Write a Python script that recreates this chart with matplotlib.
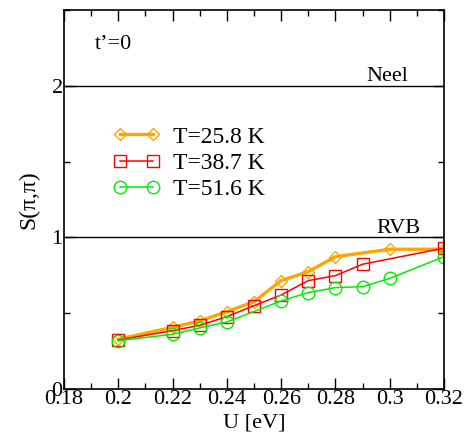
import matplotlib
matplotlib.use("Agg")
import matplotlib.pyplot as plt
from matplotlib.ticker import MultipleLocator

plt.rcParams['font.family'] = ['Liberation Serif', 'DejaVu Serif']

# T = 25.8 K
u_258 = [0.20, 0.22, 0.23, 0.24, 0.25, 0.26, 0.27, 0.28, 0.30, 0.32]
s_258 = [0.328, 0.407, 0.449, 0.510, 0.576, 0.715, 0.774, 0.873, 0.922, 0.922]
# T = 38.7 K
u_387 = [0.20, 0.22, 0.23, 0.24, 0.25, 0.26, 0.27, 0.28, 0.29, 0.32]
s_387 = [0.323, 0.385, 0.420, 0.477, 0.550, 0.620, 0.715, 0.748, 0.823, 0.929]
# T = 51.6 K
u_516 = [0.20, 0.22, 0.23, 0.24, 0.26, 0.27, 0.28, 0.29, 0.30, 0.32]
s_516 = [0.319, 0.361, 0.403, 0.442, 0.581, 0.636, 0.669, 0.675, 0.730, 0.873]

xticks = [0.18, 0.2, 0.22, 0.24, 0.26, 0.28, 0.3, 0.32]
xtick_labels = ['0.18', '0.2', '0.22', '0.24', '0.26', '0.28', '0.3', '0.32']

fig = plt.figure(figsize=(4.68, 4.43), dpi=100)
ax = fig.add_axes([0.1368, 0.1219, 0.8119, 0.8555])

ax.axhline(2, color='black', lw=1.0)
ax.axhline(1, color='black', lw=1.0)

ax.plot(u_258, s_258, color='#FFA500', lw=2.4, marker='D', ms=6.5,
        mfc='none', mec='#FFA500', mew=1.0, label='T=25.8 K')
ax.plot(u_387, s_387, color='#FF0000', lw=1.1, marker='s', ms=8,
        mfc='none', mec='#FF0000', mew=1.0, label='T=38.7 K')
ax.plot(u_516, s_516, color='#00EE00', lw=1.1, marker='o', ms=9,
        mfc='none', mec='#00EE00', mew=1.0, label='T=51.6 K')

ax.set_xlim(0.18, 0.32)
ax.set_ylim(0, 2.5)
ax.xaxis.set_minor_locator(MultipleLocator(0.01))
ax.yaxis.set_major_locator(MultipleLocator(1))
ax.yaxis.set_minor_locator(MultipleLocator(0.5))
ax.set_xticks(xticks)
ax.set_xticklabels(xtick_labels)
ax.tick_params(which='both', direction='in', top=True, right=True, labelsize=16, width=1.0)
ax.tick_params(which='major', length=8, pad=1)
ax.tick_params(which='minor', length=4)
for sp in ax.spines.values():
    sp.set_linewidth(1.2)

ax.set_xlabel('U [eV]', fontsize=16, labelpad=3)
ax.set_ylabel('S(\u03c0,\u03c0)', fontsize=17, labelpad=9)

ax.text(0.1913, 2.24, "t\u2019=0", fontsize=16)
ax.text(0.3068, 2.03, 'Neel', fontsize=16, ha='right')
ax.text(0.3112, 1.03, 'RVB', fontsize=16, ha='right')

ax.legend(loc='upper left', bbox_to_anchor=(0.098, 0.725), frameon=False,
          fontsize=17, numpoints=2, handlelength=2.0, labelspacing=0.2,
          handletextpad=0.55, borderpad=0)

fig.savefig('out.png', dpi=100)
